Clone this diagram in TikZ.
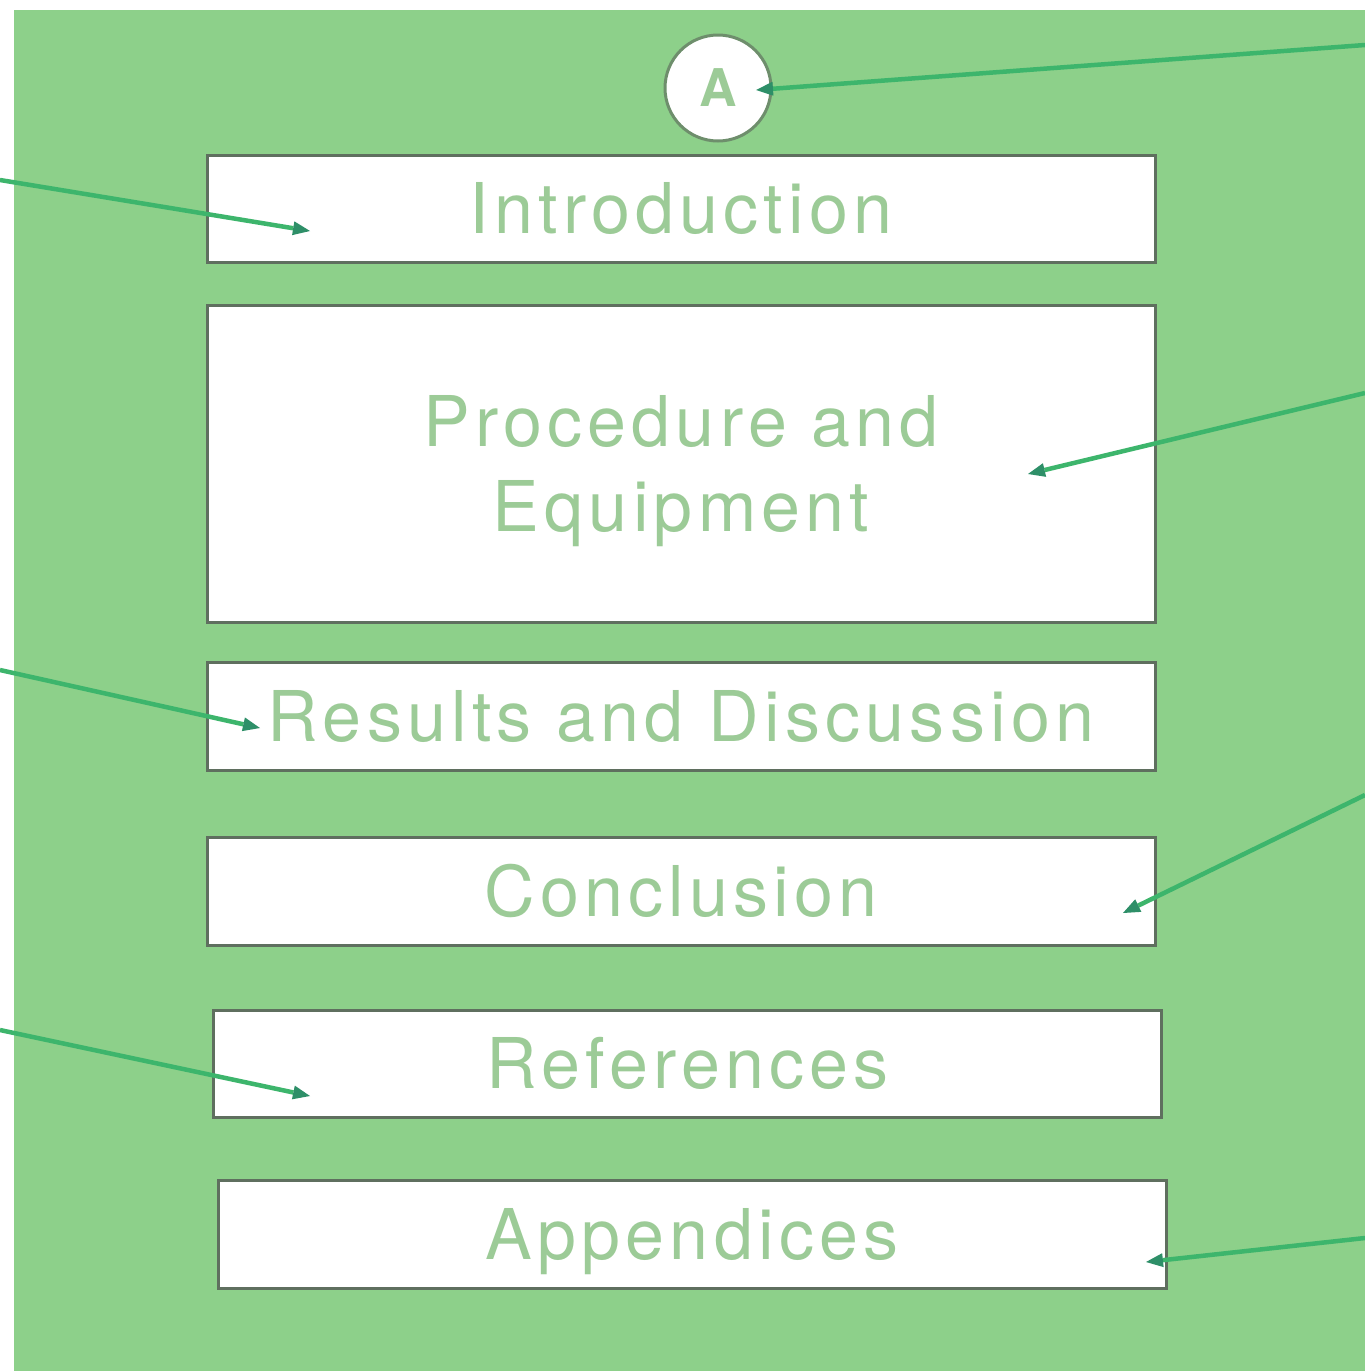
\documentclass[tikz,border=0pt]{standalone}
\usepackage{fontspec}
\setsansfont[LetterSpace=7.5]{TeX Gyre Heros}
\usetikzlibrary{arrows.meta}
\definecolor{bggreen}{HTML}{8DD08A}
\definecolor{linkgreen}{HTML}{3DB56C}
\definecolor{tipgreen}{HTML}{2E8F68}
\definecolor{labelgreen}{HTML}{9CCB97}
\definecolor{boxedge}{HTML}{5F6F5F}
\definecolor{circedge}{HTML}{6E8E6C}
\begin{document}
\begin{tikzpicture}[x=1pt,y=-1pt,
  section/.style={draw=boxedge, line width=3pt, fill=white, rectangle,
    minimum width=948pt, inner sep=0pt,
    font=\sffamily\fontsize{70}{85}\selectfont, text=labelgreen,
    text height=50pt, text depth=0pt},
  badge/.style={draw=circedge, line width=3pt, fill=white, circle,
    minimum size=106pt, inner sep=0pt,
    font=\sffamily\bfseries\fontsize{52}{52}\selectfont, text=labelgreen},
  pointer/.style={draw=linkgreen, line width=4.5pt,
    -{Triangle[length=17pt,width=14pt,fill=tipgreen,line width=0pt]}}]
  \useasboundingbox (0,0) rectangle (1365,1371);
  % page background
  \fill[bggreen] (14,10) rectangle (1365,1371);

  % report sections
  \node[badge] (badge) at (718,88) {A};
  \node[section, minimum height=107pt] (intro) at (681,208.5) {Introduction};
  \node[section, minimum height=317pt, align=center, text height=135pt, text depth=0pt]
    (proc) at (681,463.5) {Procedure and\\Equipment};
  \node[section, minimum height=108pt] (results) at (681,716) {Results and Discussion};
  \node[section, minimum height=108pt] (concl) at (681,891) {Conclusion};
  \node[section, minimum height=107pt] (refs) at (687.5,1063.5) {References};
  \node[section, minimum height=108pt] (appx) at (692,1234) {Appendices};

  % pointer tails at the page edges and heads inside the sections
  \coordinate (tA) at (1365,45);   \coordinate (hA) at (756,90);
  \coordinate (tI) at (0,180);     \coordinate (hI) at (310,231);
  \coordinate (tP) at (1365,393);  \coordinate (hP) at (1028,474);
  \coordinate (tR) at (0,670);     \coordinate (hR) at (260,728);
  \coordinate (tC) at (1365,795);  \coordinate (hC) at (1123,913);
  \coordinate (tF) at (0,1030);    \coordinate (hF) at (310,1096);
  \coordinate (tX) at (1365,1238); \coordinate (hX) at (1146,1262);

  \draw[pointer] (tA) -- (hA);
  \draw[pointer] (tI) -- (hI);
  \draw[pointer] (tP) -- (hP);
  \draw[pointer] (tR) -- (hR);
  \draw[pointer] (tC) -- (hC);
  \draw[pointer] (tF) -- (hF);
  \draw[pointer] (tX) -- (hX);
\end{tikzpicture}
\end{document}
